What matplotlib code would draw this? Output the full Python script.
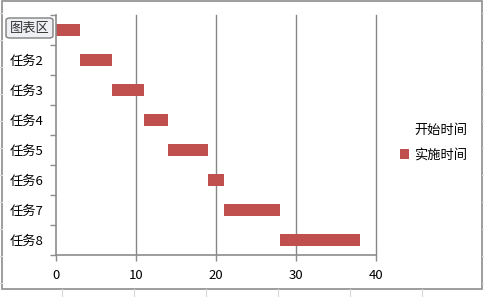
import matplotlib
matplotlib.use("Agg")
import matplotlib.pyplot as plt
from matplotlib.patches import Rectangle, FancyBboxPatch, Patch
import numpy as np

plt.rcParams['font.family'] = ['Noto Sans CJK SC', 'DejaVu Sans']

tasks = ["任务1", "任务2", "任务3", "任务4", "任务5", "任务6", "任务7", "任务8"]
start = [0, 3, 7, 11, 14, 19, 21, 28]
duration = [3, 4, 4, 3, 5, 2, 7, 10]
xticks = [0, 10, 20, 30, 40]
legend_labels = ["开始时间", "实施时间"]

W, H = 485, 297
fig = plt.figure(figsize=(W / 100, H / 100), dpi=100)
fig.patch.set_facecolor("white")

# faint spreadsheet cell lines behind the chart
for xp in [62, 134, 206, 278, 350, 422]:
    fig.add_artist(plt.Line2D([xp / W, xp / W], [0, 8 / H], color="#d9d9d9", lw=0.8))
for yp in [13, 40, 67, 94, 121, 148, 175, 202, 229, 256, 283]:
    fig.add_artist(plt.Line2D([0, 2 / W], [1 - yp / H, 1 - yp / H], color="#d9d9d9", lw=0.8))
    fig.add_artist(plt.Line2D([482 / W, 1], [1 - yp / H, 1 - yp / H], color="#d9d9d9", lw=0.8))

# chart area border
fig.add_artist(Rectangle((2 / W, 1 - 289 / H), 480 / W, 288 / H, transform=fig.transFigure,
                         fill=False, edgecolor="#8c8c8c", lw=1.2))

ax = fig.add_axes([56 / W, 1 - 255 / H, 320 / W, 240 / H])
y = np.arange(len(tasks))
ax.barh(y, start, height=0.4, color="none", edgecolor="none")
ax.barh(y, duration, left=start, height=0.4, color="#C0504D", edgecolor="none")

ax.set_xlim(0, 40)
ax.set_ylim(len(tasks) - 0.5, -0.5)
ax.set_xticks(xticks)
ax.set_xticklabels([str(v) for v in xticks], fontsize=9.5)
ax.set_yticks(y)
ylabels = ax.set_yticklabels(tasks, fontsize=9.5)
ylabels[0].set_visible(False)  # hidden behind the tooltip in the reference
ax.set_yticks(np.arange(-0.5, len(tasks)), minor=True)
ax.tick_params(axis="y", which="major", length=0, pad=9)
ax.tick_params(axis="y", which="minor", length=4, color="#8c8c8c", direction="out", width=1)
ax.tick_params(axis="x", which="major", length=4, color="#8c8c8c", direction="out", width=1, pad=6)

for xv in xticks[1:]:
    ax.axvline(xv, color="#868686", lw=1, zorder=0.5, clip_on=False)
for s in ["top", "right"]:
    ax.spines[s].set_visible(False)
for s in ["left", "bottom"]:
    ax.spines[s].set_color("#8c8c8c")
    ax.spines[s].set_linewidth(1.2)

handles = [Patch(facecolor="none", edgecolor="none"), Patch(facecolor="#C0504D", edgecolor="none")]
fig.legend(handles, legend_labels, loc="center left", bbox_to_anchor=(388 / W, 1 - 143 / H),
           frameon=False, fontsize=9.5, handlelength=0.7, handleheight=0.7, handletextpad=0.4,
           labelspacing=0.85)

# Excel tooltip overlay
tip = FancyBboxPatch((6 / W, 1 - 38 / H), 47 / W, 20 / H, transform=fig.transFigure,
                     boxstyle="round,pad=0,rounding_size=0.008", facecolor="#eef0f4",
                     edgecolor="#7f7f7f", lw=1, zorder=10)
fig.add_artist(tip)
fig.text(29.5 / W, 1 - 28.5 / H, "图表区", ha="center", va="center", fontsize=9.5,
         color="#333333", zorder=11)

fig.savefig("out.png", dpi=100, facecolor="white")
